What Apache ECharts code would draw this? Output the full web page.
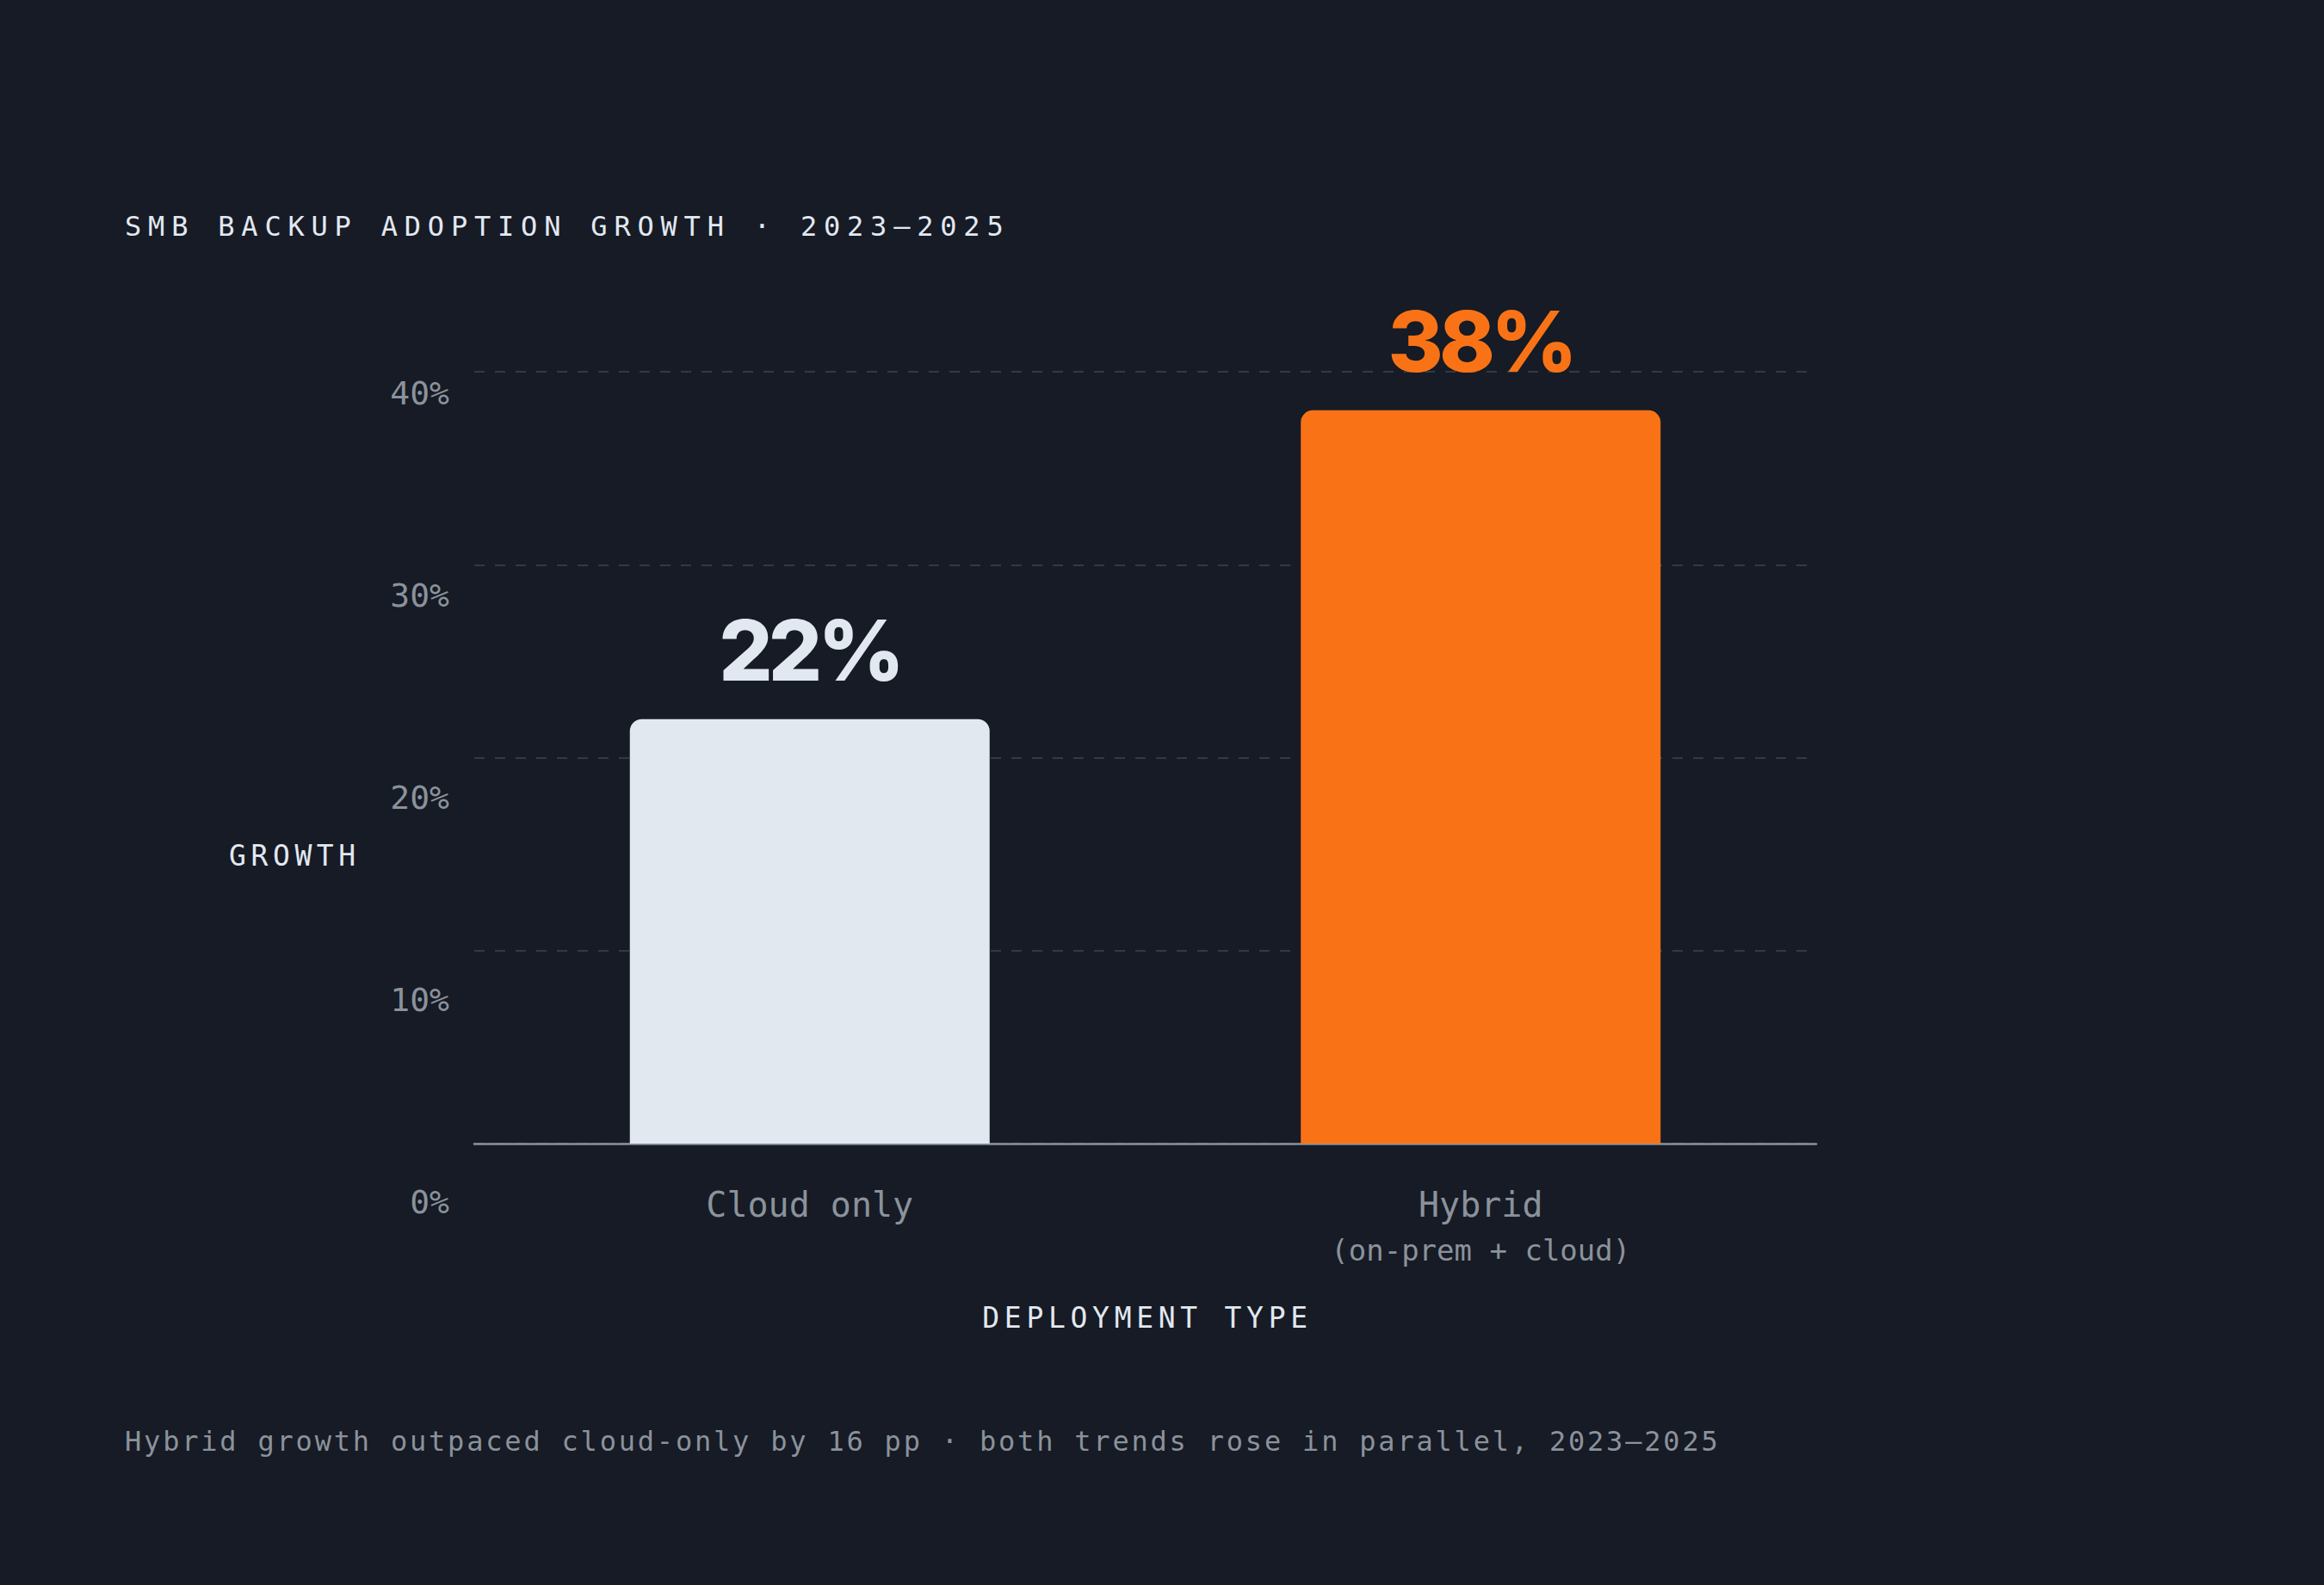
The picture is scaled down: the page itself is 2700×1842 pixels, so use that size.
<!DOCTYPE html>
<html>
<head>
<meta charset="utf-8">
<title>SMB backup adoption growth</title>
<script src="https://cdn.jsdelivr.net/npm/echarts@6/dist/echarts.min.js"></script>
<style>
  html, body { margin: 0; padding: 0; background: #161b25; }
  #chart { width: 2700px; height: 1842px; }
</style>
</head>
<body>
<div id="chart"></div>
<script>
// data
const categories = ['Cloud only', 'Hybrid'];
const categoryNotes = ['', '(on-prem + cloud)'];
const growth = [22, 38];
const barColors = ['#e2e8f0', '#f97316'];

const titleText = 'SMB BACKUP ADOPTION GROWTH · 2023–2025';
const yName = 'GROWTH';
const xName = 'DEPLOYMENT TYPE';
const footText = 'Hybrid growth outpaced cloud-only by 16 pp · both trends rose in parallel, 2023–2025';

const MONO = "'DejaVu Sans Mono', 'Liberation Mono', monospace";
const SANS = "Inter, 'Noto Sans', sans-serif";
const LIGHT = '#e2e8f0';
const GREY = '#8b929b';

// letter spacing per text (svg renderer, applied after draw)
const spacing = {};
spacing[titleText] = 7.8;
spacing[yName] = 5.6;
spacing[xName] = 5.7;
spacing[footText] = 2.8;
growth.forEach(v => { spacing[v + '%'] = -5; });

const chart = echarts.init(document.getElementById('chart'), null, { renderer: 'svg' });

const option = {
  backgroundColor: '#161b25',
  animation: false,
  grid: [
    // plot area
    { left: 551, right: 590, top: 432, bottom: 513 },
    // the tick labels sit on their own, slightly taller scale
    { left: 551, right: 590, top: 457, bottom: 445 }
  ],
  xAxis: [
    {
      type: 'category',
      gridIndex: 0,
      data: categories,
      axisTick: { show: false },
      axisLine: { lineStyle: { color: GREY, width: 2.5 } },
      axisLabel: {
        margin: 45,
        formatter: function (v, i) {
          return categoryNotes[i] ? '{name|' + v + '}\n{note|' + categoryNotes[i] + '}' : '{name|' + v + '}';
        },
        rich: {
          name: { fontFamily: MONO, fontSize: 40, lineHeight: 52, color: GREY },
          note: { fontFamily: MONO, fontSize: 34, lineHeight: 54, color: GREY }
        }
      }
    },
    { type: 'value', gridIndex: 1, show: false }
  ],
  yAxis: [
    {
      type: 'value',
      gridIndex: 0,
      min: 0, max: 40, interval: 10,
      axisLine: { show: false },
      axisTick: { show: false },
      axisLabel: { show: false },
      splitLine: { lineStyle: { color: '#333a45', width: 2, type: [12, 12] } }
    },
    {
      type: 'value',
      gridIndex: 1,
      min: 0, max: 40, interval: 10,
      axisLine: { show: false },
      axisTick: { show: false },
      splitLine: { show: false },
      axisLabel: {
        margin: 29,
        formatter: '{value}%',
        fontFamily: MONO,
        fontSize: 38,
        color: GREY
      }
    }
  ],
  series: [{
    type: 'bar',
    xAxisIndex: 0,
    yAxisIndex: 0,
    barWidth: 418,
    data: growth.map((v, i) => ({
      value: v,
      itemStyle: { color: barColors[i], borderRadius: [14, 14, 0, 0] },
      label: { color: barColors[i] }
    })),
    label: {
      show: true,
      position: 'top',
      distance: 31,
      formatter: '{c}%',
      fontFamily: SANS,
      fontWeight: 800,
      fontSize: 98,
      lineHeight: 98
    }
  }],
  graphic: [
    { type: 'text', x: 145, y: 263, style: { text: titleText, fontFamily: MONO, fontSize: 32, fill: LIGHT, align: 'left', verticalAlign: 'middle' } },
    { type: 'text', x: 266, y: 994, style: { text: yName, fontFamily: MONO, fontSize: 33, fill: LIGHT, align: 'left', verticalAlign: 'middle' } },
    { type: 'text', x: 1333, y: 1531, style: { text: xName, fontFamily: MONO, fontSize: 33, fill: LIGHT, align: 'center', verticalAlign: 'middle' } },
    { type: 'text', x: 145, y: 1675, style: { text: footText, fontFamily: MONO, fontSize: 32, fill: GREY, align: 'left', verticalAlign: 'middle' } }
  ]
};

chart.setOption(option);

function applySpacing() {
  chart.getDom().querySelectorAll('text').forEach(function (t) {
    const sp = spacing[t.textContent];
    if (sp != null) t.style.letterSpacing = sp + 'px';
  });
}
chart.on('finished', applySpacing);
applySpacing();
</script>
</body>
</html>
